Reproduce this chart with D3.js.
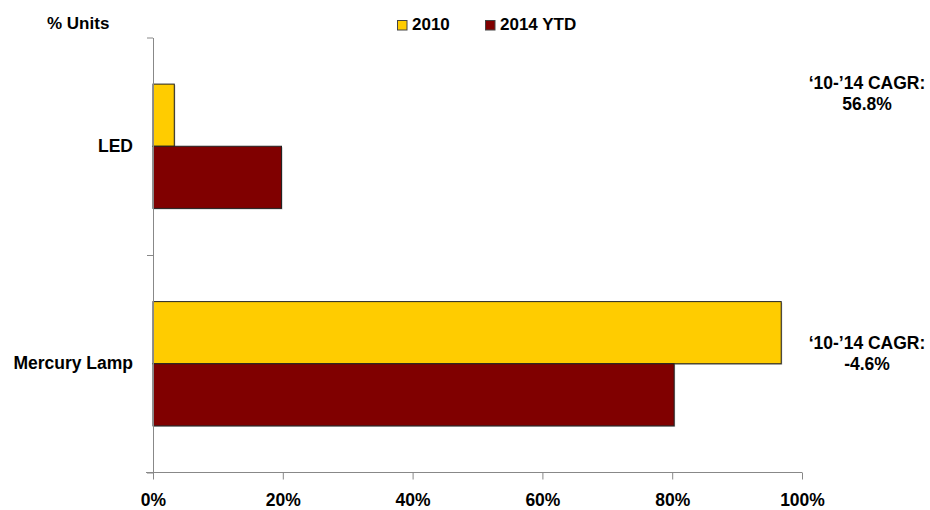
<!DOCTYPE html>
<html>
<head>
<meta charset="utf-8">
<script src="https://cdn.jsdelivr.net/npm/d3@7"></script>
<style>
  html, body { margin: 0; padding: 0; background: #fff; }
  svg text { font-family: "Liberation Sans", Arial, sans-serif; font-weight: bold; fill: #000; }
</style>
</head>
<body>
<svg id="chart" width="930" height="510"></svg>
<script>
// Share of units by lamp technology
const categories = ["LED", "Mercury Lamp"];
const seriesNames = ["2010", "2014 YTD"];
const share2010 = [3.28, 96.8];
const share2014 = [19.8, 80.3];
const cagrLabels = ["56.8%", "-4.6%"];
const xTicks = [0, 20, 40, 60, 80, 100];

const colors = ["#FFCC00", "#800000"];
const series = [share2010, share2014];

const svg = d3.select("#chart");

const x = d3.scaleLinear().domain([0, 100]).range([152.5, 801.5]);
const y0 = d3.scaleBand().domain(categories).range([37, 472]).padding(0);
const y1 = d3.scaleBand().domain(seriesNames).range([0, y0.bandwidth()])
  .paddingInner(0).paddingOuter(0.75);

// bar drop shadow
const shadow = svg.append("g");
const bars = svg.append("g");
categories.forEach((cat, ci) => {
  seriesNames.forEach((s, si) => {
    const v = series[si][ci];
    const yy = y0(cat) + y1(s);
    shadow.append("rect")
      .attr("x", x(0) + 1.5).attr("y", yy + 1.5)
      .attr("width", x(v) - x(0)).attr("height", y1.bandwidth())
      .attr("fill", "#bbb");
  });
});
categories.forEach((cat, ci) => {
  seriesNames.forEach((s, si) => {
    const v = series[si][ci];
    bars.append("rect")
      .attr("x", x(0) + 0.5).attr("y", y0(cat) + y1(s) + 0.5)
      .attr("width", x(v) - x(0)).attr("height", y1.bandwidth())
      .attr("fill", colors[si])
      .attr("stroke", "#222").attr("stroke-width", 1);
  });
});

// x axis
const xAxis = svg.append("g")
  .attr("transform", "translate(0.5,472.5)")
  .call(d3.axisBottom(x).tickValues(xTicks).tickSize(7).tickSizeOuter(0)
    .tickFormat(d => d + "%"));
xAxis.select(".domain").attr("stroke", "#888").attr("d", `M${x(0) - 7},0H${x(100)}`);
xAxis.selectAll(".tick line").attr("stroke", "#888");
xAxis.selectAll(".tick text")
  .attr("y", 33).attr("dy", 0)
  .style("font-size", "17.5px")
  .style("font-family", "'Liberation Sans', Arial, sans-serif")
  .style("font-weight", "bold");

// y axis with ticks at band boundaries
const yB = d3.scaleLinear().domain([0, categories.length]).range([37, 472]);
const yAxis = svg.append("g")
  .attr("transform", `translate(${x(0) + 0.5},0.5)`)
  .call(d3.axisLeft(yB).tickValues(d3.range(categories.length + 1))
    .tickSize(6).tickSizeOuter(0).tickFormat(""));
yAxis.select(".domain").attr("stroke", "#888");
yAxis.selectAll(".tick line").attr("stroke", "#888");

// category labels
svg.append("g").selectAll("text")
  .data(categories).join("text")
  .attr("x", 133)
  .attr("y", d => y0(d) + y0.bandwidth() / 2 + 6)
  .attr("text-anchor", "end")
  .style("font-size", "17.5px")
  .text(d => d);

// unit label
svg.append("text").attr("x", 47).attr("y", 28.5)
  .style("font-size", "17px").text("% Units");

// legend
const legendX = [397, 485];
seriesNames.forEach((s, i) => {
  svg.append("rect")
    .attr("x", legendX[i] + 0.5).attr("y", 20.5)
    .attr("width", 9.5).attr("height", 9.5)
    .attr("fill", colors[i]).attr("stroke", "#444");
  svg.append("text")
    .attr("x", legendX[i] + 15).attr("y", 30)
    .style("font-size", "17px").text(s);
});

// growth annotations, offset from each band's centre
const noteShift = [-57, -14];
const notes = svg.append("g").attr("text-anchor", "middle");
categories.forEach((cat, ci) => {
  const base = y0(cat) + y0.bandwidth() / 2 + noteShift[ci];
  const t = notes.append("text").style("font-size", "17.5px");
  t.append("tspan").attr("x", 867).attr("y", base).text("\u201810-\u201914 CAGR:");
  t.append("tspan").attr("x", 867).attr("y", base + 21).text(cagrLabels[ci]);
});
</script>
</body>
</html>
